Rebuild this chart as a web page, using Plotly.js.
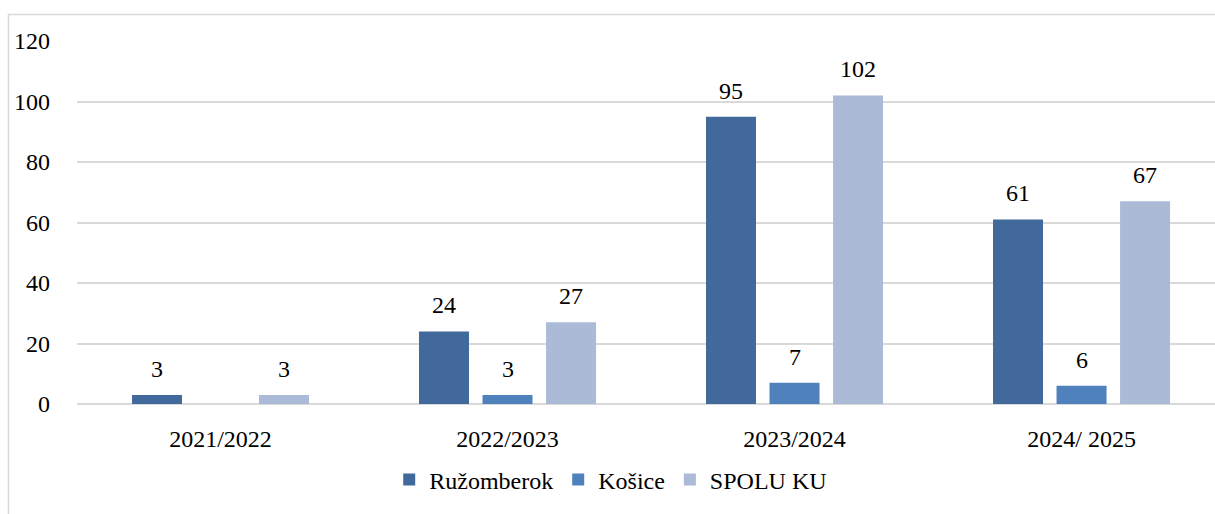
<!DOCTYPE html>
<html>
<head>
<meta charset="utf-8">
<script src="https://cdn.plot.ly/plotly-3.0.1.min.js"></script>
<style>html,body{margin:0;padding:0;background:#fff;}#chart{width:1215px;height:514px;}</style>
</head>
<body>
<div id="chart"></div>
<script>
const categories = ["2021/2022", "2022/2023", "2023/2024", "2024/ 2025"];
const seriesNames = ["Ružomberok", "Košice", "SPOLU KU"];
const ruzomberok = [3, 24, 95, 61];
const kosice = [null, 3, 7, 6];
const spoluKU = [3, 27, 102, 67];
const yTicks = [0, 20, 40, 60, 80, 100, 120];

const colors = ["#41699B", "#4F81BD", "#AABAD7"];
const seriesValues = [ruzomberok, kosice, spoluKU];
const FONT = "Liberation Serif";

const traces = seriesValues.map((vals, i) => ({
  type: "bar",
  name: seriesNames[i],
  x: categories,
  y: vals,
  marker: {color: colors[i], line: {width: 0}},
  hoverinfo: "x+y+name"
}));

const annotations = [];
seriesValues.forEach((vals, i) => {
  vals.forEach((v, j) => {
    if (v === null) return;
    annotations.push({
      x: categories[j], y: v, xref: "x", yref: "y",
      text: String(v), showarrow: false,
      xanchor: "center", yanchor: "bottom",
      xshift: (i - 1) * 63.5, yshift: 11,
      font: {family: FONT, size: 24, color: "#000"}
    });
  });
});

const layout = {
  width: 1215, height: 514,
  margin: {l: 77, r: 0, t: 41, b: 110, pad: 0},
  paper_bgcolor: "#fff", plot_bgcolor: "#fff",
  barmode: "group",
  bargap: 0.336,
  bargroupgap: 0.213,
  font: {family: FONT, size: 24, color: "#000"},
  xaxis: {
    type: "category",
    range: [-0.5, 3.465],
    showgrid: false, zeroline: false,
    showline: false, ticks: "",
    ticklabelstandoff: 18,
    tickfont: {family: FONT, size: 24, color: "#000"},
    fixedrange: true
  },
  yaxis: {
    range: [0, 120],
    tickvals: yTicks,
    ticktext: yTicks.map(String),
    showgrid: true, gridcolor: "#D9D9D9", gridwidth: 1.5,
    zeroline: true, zerolinecolor: "#D9D9D9", zerolinewidth: 2,
    showline: false, ticks: "",
    ticklabelstandoff: 26,
    tickfont: {family: FONT, size: 24, color: "#000"},
    fixedrange: true
  },
  legend: {
    orientation: "h",
    x: 0.469, xanchor: "center",
    y: -0.209, yanchor: "middle",
    font: {family: FONT, size: 24, color: "#000"},
    itemclick: false, itemdoubleclick: false
  },
  annotations: annotations,
  shapes: [{
    type: "rect", xref: "paper", yref: "paper",
    x0: -0.0602, x1: 1.02, y0: -0.4, y1: 1.073,
    line: {color: "#D9D9D9", width: 1.5}, fillcolor: "rgba(0,0,0,0)",
    layer: "below"
  }],
  showlegend: true
};

Plotly.newPlot("chart", traces, layout, {displayModeBar: false});
</script>
</body>
</html>
